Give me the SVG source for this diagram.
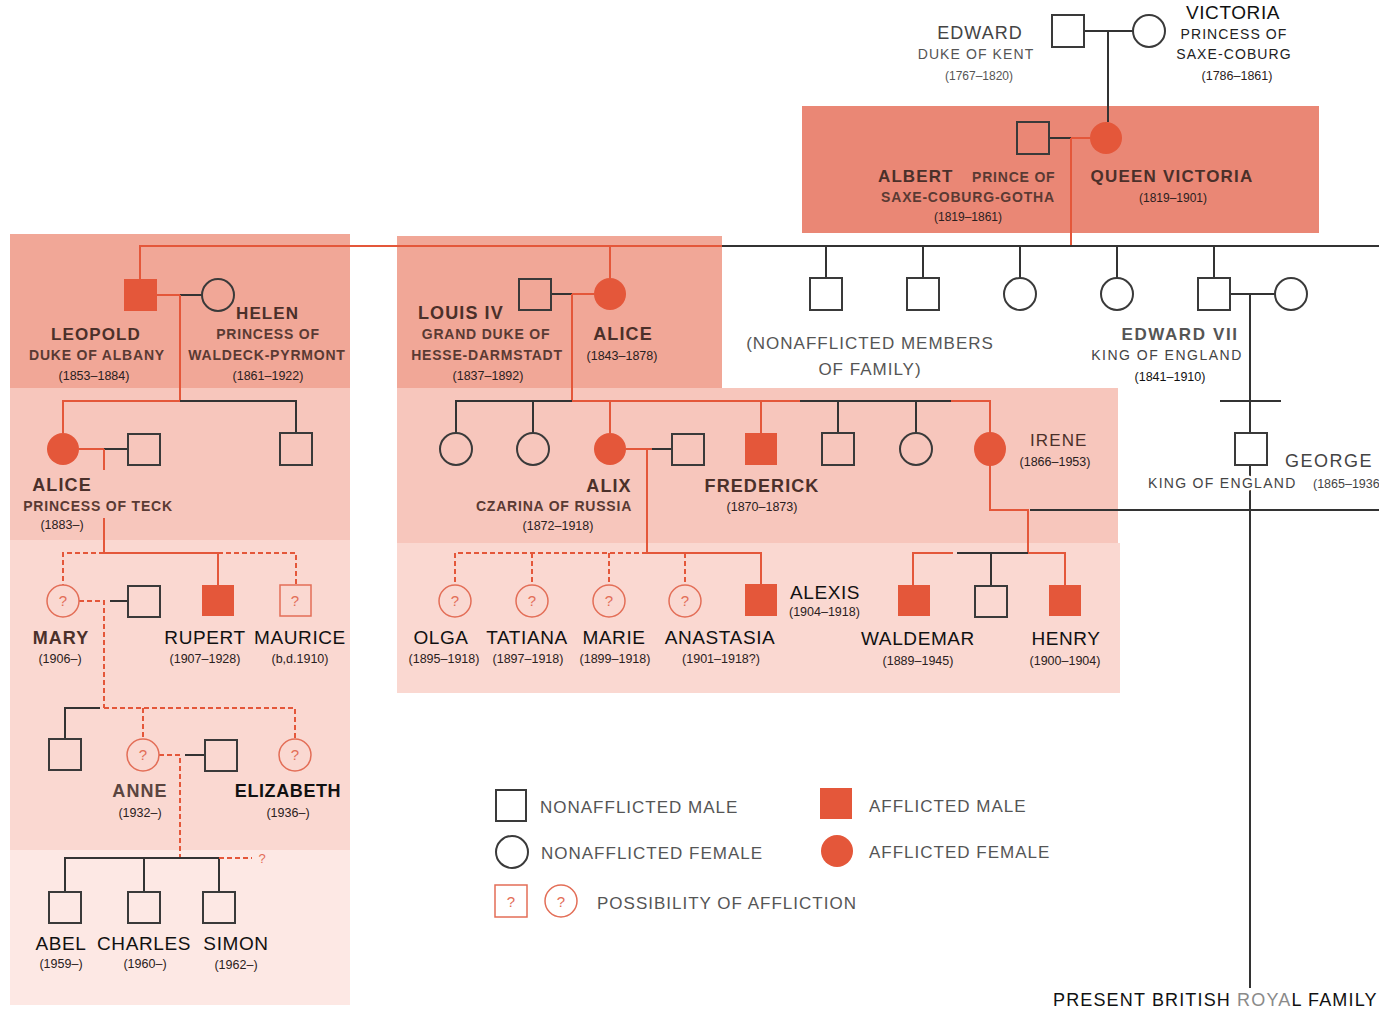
<svg xmlns="http://www.w3.org/2000/svg" width="1379" height="1010" viewBox="0 0 1379 1010">
  <style>
    text { font-family: "Liberation Sans", Arial, sans-serif; }
    .bg1 { fill: #ea8775; }
    .bg2 { fill: #f1a797; }
    .bg3 { fill: #f7c6bc; }
    .bg4 { fill: #fad8d1; }
    .bg5 { fill: #fde8e4; }
    .m { fill: none; stroke: #3a3a3a; stroke-width: 2; }
    .a { fill: #e4573a; }
    .q { fill: none; stroke: #e36e57; stroke-width: 1.5; }
    .qt { fill: #e36e57; font-size: 15px; text-anchor: middle; }
    .ln { fill: none; stroke: #333; stroke-width: 2; }
    .rl { fill: none; stroke: #e4573a; stroke-width: 2; }
    .rd { fill: none; stroke: #e4573a; stroke-width: 2; stroke-dasharray: 5 3; }
    .nb { font-size: 17px; font-weight: bold; fill: #4b302a; letter-spacing: 1.1px; }
    .nr { font-size: 19px; fill: #111; letter-spacing: 0.6px; }
    .sb { font-size: 14px; font-weight: bold; fill: #5a3a33; letter-spacing: 0.8px; }
    .sr { font-size: 14px; fill: #333; letter-spacing: 1.1px; }
    .dt { font-size: 12.5px; fill: #2a2020; }
    .lg { font-size: 17px; fill: #555; letter-spacing: 1px; }
    .c { text-anchor: middle; }
    .halo { paint-order: stroke; stroke-width: 5px; stroke-linejoin: round; }
  </style>

  <!-- shaded generation bands -->
  <g id="bands">
    <rect class="bg1" x="802" y="106" width="517" height="127"/>
    <rect class="bg2" x="10" y="234" width="340" height="154"/>
    <rect class="bg3" x="10" y="388" width="340" height="152"/>
    <rect class="bg4" x="10" y="540" width="340" height="310"/>
    <rect class="bg5" x="10" y="850" width="340" height="155"/>
    <rect class="bg2" x="397" y="236" width="325" height="152"/>
    <rect class="bg3" x="397" y="388" width="721" height="155"/>
    <rect class="bg4" x="397" y="543" width="723" height="150"/>
  </g>

  <!-- connectors -->
  <g id="connectors">
    <!-- Kent / Saxe-Coburg -->
    <path class="ln" d="M1084 31 H1133"/>
    <path class="ln" d="M1108 31 V122"/>
    <!-- Albert / Queen Victoria -->
    <path class="ln" d="M1049 138 H1071"/>
    <path class="rl" d="M1071 138 H1090"/>
    <path class="rl" d="M1071 138 V246"/>
    <path class="ln" d="M722 246 H1379"/>
    <path class="ln" d="M826 246 V278 M923 246 V278 M1020 246 V278 M1117 246 V278 M1214 246 V278"/>
    <path class="rl" d="M140 279 V246 H722"/>
    <path class="rl" d="M610 246 V278"/>
    <!-- Edward VII line -->
    <path class="ln" d="M1230 294 H1275"/>
    <path class="ln" d="M1250 294 V433 M1220 401 H1281 M1250 465 V988"/>
    <path class="ln" d="M1030 510 H1379"/>
    <!-- Leopold / Helen -->
    <path class="rl" d="M157 295 H180"/>
    <path class="ln" d="M180 295 H202"/>
    <path class="rl" d="M180 295 V401 H63 V433"/>
    <path class="ln" d="M180 401 H296 V433"/>
    <!-- Alice of Teck (line breaks behind her title) -->
    <path class="rl" d="M79 449 H104"/>
    <path class="ln" d="M104 449 H128"/>
    <path class="rl" d="M104 449 V470"/>
    <path class="rl" d="M104 518 V553 H218 V585"/>
    <path class="rd" d="M104 553 H63 V585 M218 553 H296 V585"/>
    <!-- Mary -->
    <path class="rd" d="M79 601 H104 V708"/>
    <path class="ln" d="M110 601 H128"/>
    <path class="ln" d="M100 708 H65 V739"/>
    <path class="rd" d="M104 708 H295 V739 M143 708 V739"/>
    <!-- Anne -->
    <path class="rd" d="M159 755 H180 V858"/>
    <path class="ln" d="M185 755 H205"/>
    <path class="ln" d="M65 892 V858 H219 V892 M144 858 V892"/>
    <path class="rd" d="M219 858 H252"/>
    <!-- Louis IV / Alice -->
    <path class="ln" d="M551 294 H572"/>
    <path class="rl" d="M572 294 H594"/>
    <path class="rl" d="M572 294 V401"/>
    <path class="ln" d="M572 401 H456 V433 M533 401 V433"/>
    <path class="rl" d="M572 401 H800 M610 401 V433 M761 401 V433"/>
    <path class="ln" d="M800 401 H951 M838 401 V433 M916 401 V433"/>
    <path class="rl" d="M951 401 H990 V433"/>
    <!-- Alix / Nicholas -->
    <path class="rl" d="M626 449 H652"/>
    <path class="ln" d="M652 449 H672"/>
    <path class="rl" d="M647 449 V553"/>
    <path class="rd" d="M647 553 H455 V585 M532 553 V585 M609 553 V585 M685 553 V585"/>
    <path class="rl" d="M647 553 H761 V584"/>
    <!-- Irene -->
    <path class="rl" d="M990 465 V510 H1028 V553 H1065 V585"/>
    <path class="ln" d="M1028 553 H957 M991 553 V586"/>
    <path class="rl" d="M953 553 H913 V585"/>
  </g>

  <!-- earliest generation -->
  <g id="edward-kent">
    <rect class="m" x="1052" y="15" width="32" height="32"/>
    <text class="c" x="980" y="39" style="font-size:18px;fill:#444;letter-spacing:1px">EDWARD</text>
    <text class="sr c" x="976" y="59" style="fill:#555">DUKE OF KENT</text>
    <text class="dt c" x="979" y="80" style="fill:#555;font-size:12px">(1767–1820)</text>
  </g>
  <g id="victoria-saxe-coburg">
    <circle class="m" cx="1149" cy="31" r="16"/>
    <text class="nr c" x="1233" y="19">VICTORIA</text>
    <text class="sr c" x="1234" y="39" style="fill:#222">PRINCESS OF</text>
    <text class="sr c" x="1234" y="59" style="fill:#222">SAXE-COBURG</text>
    <text class="dt c" x="1237" y="80">(1786–1861)</text>
  </g>

  <!-- Albert and Queen Victoria -->
  <g id="albert">
    <rect class="m" x="1017" y="122" width="32" height="32"/>
    <text class="nb" x="878" y="182">ALBERT</text>
    <text class="sb" x="972" y="182">PRINCE OF</text>
    <text class="sb c" x="968" y="202">SAXE-COBURG-GOTHA</text>
    <text class="dt c" x="968" y="221" style="font-size:12px">(1819–1861)</text>
  </g>
  <g id="queen-victoria">
    <circle class="a" cx="1106" cy="138" r="16"/>
    <text class="nb c" x="1172" y="182" style="letter-spacing:1.2px">QUEEN VICTORIA</text>
    <text class="dt c" x="1173" y="202" style="font-size:12px">(1819–1901)</text>
  </g>

  <!-- Victoria's unaffected children -->
  <g id="child-1"><rect class="m" x="810" y="278" width="32" height="32"/></g>
  <g id="child-2"><rect class="m" x="907" y="278" width="32" height="32"/></g>
  <g id="child-3"><circle class="m" cx="1020" cy="294" r="16"/></g>
  <g id="child-4"><circle class="m" cx="1117" cy="294" r="16"/></g>
  <g id="nonafflicted-note">
    <text class="lg c" x="870" y="349">(NONAFFLICTED MEMBERS</text>
    <text class="lg c" x="870" y="375">OF FAMILY)</text>
  </g>
  <g id="edward-vii">
    <rect class="m" x="1198" y="278" width="32" height="32"/>
    <text class="c" x="1180" y="340" style="font-size:17px;font-weight:bold;fill:#555;letter-spacing:1.6px">EDWARD VII</text>
    <text class="sr c" x="1167" y="360" style="fill:#444;letter-spacing:1.5px">KING OF ENGLAND</text>
    <text class="dt c" x="1170" y="381" style="fill:#111">(1841–1910)</text>
  </g>
  <g id="alexandra"><circle class="m" cx="1291" cy="294" r="16"/></g>
  <g id="george-v">
    <rect class="m" x="1235" y="433" width="32" height="32"/>
    <text x="1285" y="467" style="font-size:18px;fill:#444;letter-spacing:1.5px">GEORGE V</text>
    <text class="sr halo" x="1148" y="488" style="fill:#444;letter-spacing:1.3px;stroke:#fff">KING OF ENGLAND</text>
    <text class="dt" x="1313" y="488" style="fill:#444">(1865–1936)</text>
  </g>
  <g id="present-royal-family">
    <text x="1053" y="1006" style="font-size:18px;fill:#111;letter-spacing:1.15px">PRESENT BRITISH <tspan fill="#8a8a8a">ROYA</tspan>L FAMILY</text>
  </g>

  <!-- Leopold branch -->
  <g id="leopold">
    <rect class="a" x="124" y="279" width="33" height="32"/>
    <text class="nb c" x="96" y="340">LEOPOLD</text>
    <text class="sb c" x="97" y="360">DUKE OF ALBANY</text>
    <text class="dt c" x="94" y="380">(1853–1884)</text>
  </g>
  <g id="helen">
    <circle class="m" cx="218" cy="295" r="16"/>
    <text class="nb" x="236" y="319">HELEN</text>
    <text class="sb c" x="268" y="339">PRINCESS OF</text>
    <text class="sb c" x="267" y="360">WALDECK-PYRMONT</text>
    <text class="dt c" x="268" y="380">(1861–1922)</text>
  </g>
  <g id="alice-teck">
    <circle class="a" cx="63" cy="449" r="16"/>
    <text class="nb c" x="62" y="491" style="font-size:18px">ALICE</text>
    <text class="sb c" x="98" y="511">PRINCESS OF TECK</text>
    <text class="dt c" x="62" y="529">(1883–)</text>
  </g>
  <g id="alexander-teck"><rect class="m" x="128" y="434" width="32" height="31"/></g>
  <g id="charles-edward"><rect class="m" x="280" y="433" width="32" height="32"/></g>
  <g id="mary">
    <circle class="q" cx="63" cy="601" r="16"/>
    <text class="qt" x="63" y="606">?</text>
    <text class="nb c" x="61" y="644" style="font-size:18px">MARY</text>
    <text class="dt c" x="60" y="663">(1906–)</text>
  </g>
  <g id="mary-husband"><rect class="m" x="128" y="586" width="32" height="31"/></g>
  <g id="rupert">
    <rect class="a" x="202" y="585" width="32" height="31"/>
    <text class="nr c" x="205" y="644">RUPERT</text>
    <text class="dt c" x="205" y="663">(1907–1928)</text>
  </g>
  <g id="maurice">
    <rect class="q" x="280" y="585" width="31" height="31"/>
    <text class="qt" x="295" y="606">?</text>
    <text class="nr c" x="300" y="644">MAURICE</text>
    <text class="dt c" x="300" y="663">(b,d.1910)</text>
  </g>
  <g id="mary-son"><rect class="m" x="49" y="739" width="32" height="31"/></g>
  <g id="anne">
    <circle class="q" cx="143" cy="755" r="16"/>
    <text class="qt" x="143" y="760">?</text>
    <text class="nb c" x="140" y="797" style="font-size:18px;fill:#5a4540">ANNE</text>
    <text class="dt c" x="140" y="817">(1932–)</text>
  </g>
  <g id="anne-husband"><rect class="m" x="205" y="740" width="32" height="31"/></g>
  <g id="elizabeth">
    <circle class="q" cx="295" cy="755" r="16"/>
    <text class="qt" x="295" y="760">?</text>
    <text class="nr c" x="288" y="797" style="font-weight:bold;font-size:18px">ELIZABETH</text>
    <text class="dt c" x="288" y="817">(1936–)</text>
  </g>
  <g id="unknown-child"><text class="qt" x="262" y="863" style="font-size:13px">?</text></g>
  <g id="abel">
    <rect class="m" x="49" y="892" width="32" height="31"/>
    <text class="nr c" x="61" y="950">ABEL</text>
    <text class="dt c" x="61" y="968">(1959–)</text>
  </g>
  <g id="charles">
    <rect class="m" x="128" y="892" width="32" height="31"/>
    <text class="nr c" x="144" y="950">CHARLES</text>
    <text class="dt c" x="145" y="968">(1960–)</text>
  </g>
  <g id="simon">
    <rect class="m" x="203" y="892" width="32" height="31"/>
    <text class="nr c" x="236" y="950">SIMON</text>
    <text class="dt c" x="236" y="969">(1962–)</text>
  </g>

  <!-- Hesse branch -->
  <g id="louis-iv">
    <rect class="m" x="519" y="279" width="32" height="31"/>
    <text class="nb" x="418" y="319" style="font-size:18px">LOUIS IV</text>
    <text class="sb c" x="486" y="339">GRAND DUKE OF</text>
    <text class="sb c" x="487" y="360">HESSE-DARMSTADT</text>
    <text class="dt c" x="488" y="380">(1837–1892)</text>
  </g>
  <g id="alice-hesse">
    <circle class="a" cx="610" cy="294" r="16"/>
    <text class="nb c" x="623" y="340" style="font-size:18px">ALICE</text>
    <text class="dt c" x="622" y="360">(1843–1878)</text>
  </g>
  <g id="hesse-daughter-1"><circle class="m" cx="456" cy="449" r="16"/></g>
  <g id="hesse-daughter-2"><circle class="m" cx="533" cy="449" r="16"/></g>
  <g id="alix">
    <circle class="a" cx="610" cy="449" r="16"/>
    <text class="nb c" x="609" y="492" style="font-size:18px">ALIX</text>
    <text class="sb c" x="554" y="511">CZARINA OF RUSSIA</text>
    <text class="dt c" x="558" y="530">(1872–1918)</text>
  </g>
  <g id="nicholas"><rect class="m" x="672" y="434" width="32" height="31"/></g>
  <g id="frederick">
    <rect class="a" x="745" y="433" width="32" height="32"/>
    <text class="nb c" x="762" y="492" style="font-size:18px">FREDERICK</text>
    <text class="dt c" x="762" y="511">(1870–1873)</text>
  </g>
  <g id="hesse-son"><rect class="m" x="822" y="433" width="32" height="32"/></g>
  <g id="hesse-daughter-3"><circle class="m" cx="916" cy="449" r="16"/></g>
  <g id="irene">
    <ellipse class="a" cx="990" cy="449" rx="16" ry="17"/>
    <text class="nb" x="1030" y="446" style="font-weight:normal;fill:#4b302a">IRENE</text>
    <text class="dt c" x="1055" y="466">(1866–1953)</text>
  </g>
  <g id="olga">
    <circle class="q" cx="455" cy="601" r="16"/>
    <text class="qt" x="455" y="606">?</text>
    <text class="nr c" x="441" y="644">OLGA</text>
    <text class="dt c" x="444" y="663">(1895–1918)</text>
  </g>
  <g id="tatiana">
    <circle class="q" cx="532" cy="601" r="16"/>
    <text class="qt" x="532" y="606">?</text>
    <text class="nr c" x="527" y="644">TATIANA</text>
    <text class="dt c" x="528" y="663">(1897–1918)</text>
  </g>
  <g id="marie">
    <circle class="q" cx="609" cy="601" r="16"/>
    <text class="qt" x="609" y="606">?</text>
    <text class="nr c" x="614" y="644">MARIE</text>
    <text class="dt c" x="615" y="663">(1899–1918)</text>
  </g>
  <g id="anastasia">
    <circle class="q" cx="685" cy="601" r="16"/>
    <text class="qt" x="685" y="606">?</text>
    <text class="nr c" x="720" y="644">ANASTASIA</text>
    <text class="dt c" x="721" y="663">(1901–1918?)</text>
  </g>
  <g id="alexis">
    <rect class="a" x="745" y="584" width="32" height="32"/>
    <text class="nr" x="790" y="599">ALEXIS</text>
    <text class="dt" x="789" y="616">(1904–1918)</text>
  </g>
  <g id="waldemar">
    <rect class="a" x="898" y="585" width="32" height="31"/>
    <text class="nr c" x="918" y="645">WALDEMAR</text>
    <text class="dt c" x="918" y="665">(1889–1945)</text>
  </g>
  <g id="sigismund"><rect class="m" x="975" y="586" width="32" height="31"/></g>
  <g id="henry">
    <rect class="a" x="1049" y="585" width="32" height="31"/>
    <text class="nr c" x="1066" y="645">HENRY</text>
    <text class="dt c" x="1065" y="665">(1900–1904)</text>
  </g>

  <!-- key -->
  <g id="legend">
    <rect class="m" x="496" y="790" width="30" height="31"/>
    <text class="lg" x="540" y="813">NONAFFLICTED MALE</text>
    <circle class="m" cx="512" cy="852" r="16"/>
    <text class="lg" x="541" y="859">NONAFFLICTED FEMALE</text>
    <rect class="a" x="820" y="788" width="32" height="31"/>
    <text class="lg" x="869" y="812">AFFLICTED MALE</text>
    <circle class="a" cx="837" cy="851" r="16"/>
    <text class="lg" x="869" y="858">AFFLICTED FEMALE</text>
    <rect class="q" x="495" y="885" width="32" height="32"/>
    <text class="qt" x="511" y="907">?</text>
    <circle class="q" cx="561" cy="901" r="16"/>
    <text class="qt" x="561" y="907">?</text>
    <text class="lg" x="597" y="909">POSSIBILITY OF AFFLICTION</text>
  </g>
</svg>
